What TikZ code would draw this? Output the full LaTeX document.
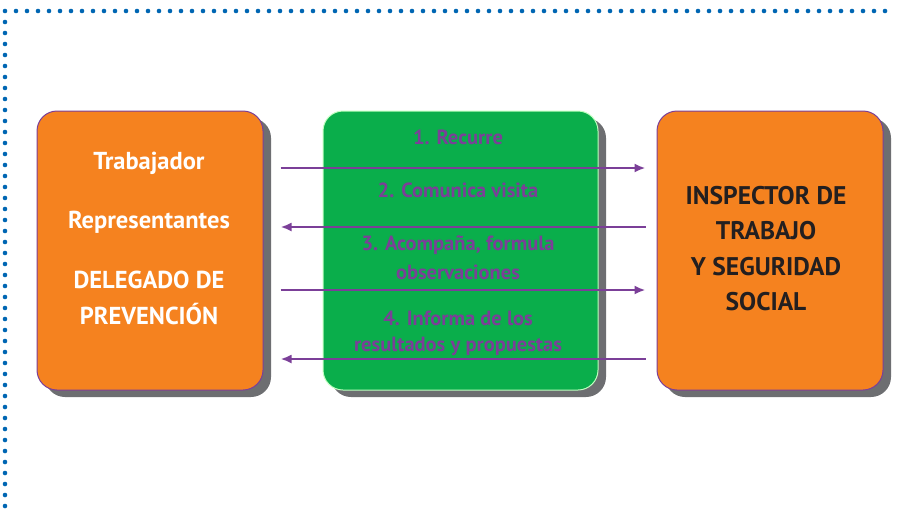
\documentclass[tikz,border=0pt]{standalone}
\usepackage{fontspec}
\setmainfont{PT Sans}
\usetikzlibrary{shadows,calc,arrows.meta}
\definecolor{dotblue}{HTML}{0066B3}
\definecolor{boxorange}{HTML}{F5821F}
\definecolor{boxgreen}{HTML}{0AAE4B}
\definecolor{lilac}{HTML}{7B3F98}
\definecolor{shadowgray}{HTML}{6D6E71}
\definecolor{textdark}{HTML}{231F20}
\tikzset{
  box/.style={rectangle, rounded corners=20pt, minimum width=226pt, minimum height=279pt,
    inner sep=0pt, drop shadow={shadow xshift=8pt, shadow yshift=-7pt, fill=shadowgray, opacity=1}},
  orangebox/.style={box, fill=boxorange, draw=lilac, line width=1pt},
  greenbox/.style={box, fill=boxgreen, draw=green!25!white, line width=1pt, minimum width=275pt},
  lefttxt/.style={font=\bfseries\fontsize{24.5}{28}\selectfont, text=white, inner sep=0pt},
  righttxt/.style={font=\bfseries\fontsize{25.5}{29}\selectfont, text=textdark, inner sep=0pt},
  midtxt/.style={font=\bfseries\fontsize{20.5}{24}\selectfont, text=lilac, inner sep=0pt},
  arr/.style={draw=lilac, line width=2.2pt, -{Latex[length=11pt,width=9pt]}},
}
\begin{document}
\begin{tikzpicture}[x=1pt,y=-1pt]
\useasboundingbox (0,0) rectangle (901,515);
% dotted frame
\foreach \i in {0,...,80} \fill[dotblue] (5+\i*11,11) circle (2.3pt);
\foreach \j in {1,...,45} \fill[dotblue] (5,11+\j*11) circle (2.3pt);
% boxes
\node[orangebox] (L) at (150,250.5) {};
\node[greenbox] (M) at (460.5,250.5) {};
\node[orangebox] (R) at (770,250.5) {};
% left texts
\node[lefttxt] (l1) at (149,163) {Trabajador};
\node[lefttxt] (l2) at (149,222) {Representantes};
\node[lefttxt] (l3) at (149,280) {DELEGADO DE};
\node[lefttxt] (l4) at (149,314) {PREVENCIÓN};
% right texts
\node[righttxt] (r1) at (766,196) {INSPECTOR DE};
\node[righttxt] (r2) at (766,231) {TRABAJO};
\node[righttxt] (r3) at (766,267) {Y SEGURIDAD};
\node[righttxt] (r4) at (766,302) {SOCIAL};
% middle texts
\node[midtxt] (m1) at (458,137) {1. Recurre};
\node[midtxt] (m2) at (458,190) {2. Comunica visita};
\node[midtxt] (m3) at (458,245) {3. Acompaña, formula};
\node[midtxt] (m4) at (458,272) {observaciones};
\node[midtxt] (m5) at (458,318) {4. Informa de los};
\node[midtxt] (m6) at (458,346) {resultados y propuestas};
% arrow levels
\coordinate (a1) at (0,168);
\coordinate (a2) at (0,227);
\coordinate (a3) at (0,290);
\coordinate (a4) at (0,359);
\draw[arr, shorten <=17pt, shorten >=11pt] (L.east |- a1) -- (R.west |- a1);
\draw[arr, shorten <=11pt, shorten >=17pt] (R.west |- a2) -- (L.east |- a2);
\draw[arr, shorten <=17pt, shorten >=11pt] (L.east |- a3) -- (R.west |- a3);
\draw[arr, shorten <=11pt, shorten >=17pt] (R.west |- a4) -- (L.east |- a4);
\end{tikzpicture}
\end{document}
